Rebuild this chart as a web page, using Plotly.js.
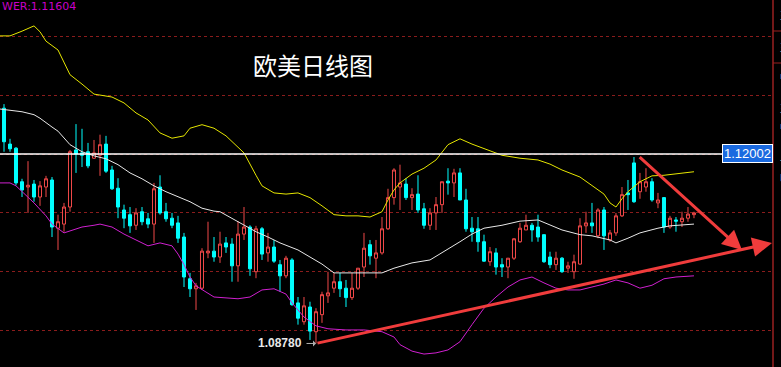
<!DOCTYPE html>
<html><head><meta charset="utf-8">
<script src="https://cdn.plot.ly/plotly-3.0.1.min.js"></script>
<style>html,body{margin:0;padding:0;background:#000;}#chart{width:781px;height:367px;}</style>
</head><body><div id="chart"></div>
<script>
// ---- candle data (EUR/USD daily) ----
const open  = [1.1278,1.1217,1.1210,1.1153,1.1144,1.1149,1.1127,1.1144,1.1156,1.1074,1.1081,1.1110,1.1207,1.1202,1.1204,1.1193,1.1198,1.1217,1.1173,1.1142,1.1105,1.1097,1.1079,1.1102,1.1090,1.1081,1.1144,1.1102,1.1091,1.1083,1.1059,1.0988,1.0971,1.0972,1.1032,1.1035,1.1025,1.1049,1.1047,1.1010,1.1064,1.1076,1.1000,1.1073,1.1032,1.1042,1.1012,1.0993,1.1020,1.0947,1.0915,1.0940,1.0898,1.0927,1.0959,1.0972,1.0983,1.0972,1.0956,1.0972,1.1008,1.1046,1.1023,1.1032,1.1073,1.1126,1.1144,1.1149,1.1126,1.1132,1.1107,1.1079,1.1100,1.1114,1.1154,1.1151,1.1168,1.1122,1.1074,1.1073,1.1051,1.1017,1.1032,1.1012,1.1008,1.1023,1.1051,1.1071,1.1079,1.1076,1.1063,1.1025,1.1012,1.1023,1.1006,1.1000,1.1013,1.1078,1.1083,1.1061,1.1105,1.1054,1.1066,1.1095,1.1134,1.1185,1.1136,1.1144,1.1153,1.1117,1.1126,1.1076,1.1088,1.1085,1.1091,1.1097];
const high  = [1.1285,1.1226,1.1212,1.1158,1.1188,1.1156,1.1154,1.1163,1.1161,1.1097,1.1117,1.1207,1.1251,1.1243,1.1219,1.1224,1.1233,1.1231,1.1180,1.1159,1.1114,1.1110,1.1108,1.1110,1.1100,1.1151,1.1164,1.1117,1.1100,1.1095,1.1066,1.0998,1.0981,1.1040,1.1085,1.1059,1.1068,1.1059,1.1057,1.1086,1.1110,1.1079,1.1078,1.1076,1.1066,1.1054,1.1020,1.1027,1.1023,1.0957,1.0957,1.0949,1.0938,1.0966,1.1000,1.0998,1.0998,1.0986,1.0998,1.1006,1.1066,1.1054,1.1054,1.1093,1.1141,1.1176,1.1182,1.1159,1.1142,1.1164,1.1117,1.1108,1.1127,1.1153,1.1176,1.1175,1.1176,1.1141,1.1093,1.1093,1.1063,1.1042,1.1040,1.1023,1.1023,1.1057,1.1083,1.1097,1.1083,1.1097,1.1063,1.1034,1.1034,1.1025,1.1017,1.1029,1.1091,1.1102,1.1117,1.1108,1.1110,1.1071,1.1100,1.1144,1.1156,1.1195,1.1168,1.1176,1.1159,1.1134,1.1127,1.1095,1.1093,1.1102,1.1110,1.1102];
const low   = [1.1204,1.1204,1.1147,1.1127,1.1100,1.1119,1.1112,1.1127,1.1059,1.1037,1.1068,1.1102,1.1168,1.1178,1.1176,1.1192,1.1163,1.1168,1.1139,1.1091,1.1074,1.1066,1.1071,1.1079,1.1074,1.1049,1.1097,1.1085,1.1074,1.1049,1.0974,1.0957,1.0935,1.0969,1.1023,1.1017,1.1015,1.1032,1.0983,1.0983,1.1054,1.0993,1.0989,1.1020,1.1017,1.1015,1.0966,1.0989,1.0942,1.0910,1.0910,1.0884,1.0878,1.0913,1.0947,1.0964,1.0957,1.0940,1.0952,1.0969,1.0991,1.1012,1.0989,1.1029,1.1071,1.1114,1.1105,1.1122,1.1105,1.1100,1.1073,1.1071,1.1071,1.1100,1.1131,1.1127,1.1122,1.1068,1.1051,1.1034,1.1017,1.1010,1.0995,1.0991,1.0989,1.1020,1.1049,1.1071,1.1051,1.1051,1.1015,1.1006,1.1003,1.0998,1.0998,1.0988,1.1012,1.1066,1.1066,1.1057,1.1037,1.1051,1.1061,1.1093,1.1105,1.1117,1.1124,1.1136,1.1119,1.1108,1.1066,1.1073,1.1068,1.1076,1.1085,1.1091];
const close = [1.1221,1.1209,1.1151,1.1139,1.1147,1.1127,1.1146,1.1158,1.1076,1.1085,1.1110,1.1204,1.1200,1.1198,1.1180,1.1202,1.1216,1.1171,1.1141,1.1110,1.1091,1.1078,1.1100,1.1085,1.1081,1.1141,1.1100,1.1090,1.1079,1.1057,1.0991,1.0971,1.0976,1.1035,1.1035,1.1025,1.1047,1.1042,1.1010,1.1064,1.1076,1.1005,1.1073,1.1030,1.1042,1.1018,1.0993,1.1023,1.0944,1.0921,1.0942,1.0899,1.0932,1.0961,1.0964,1.0983,1.0971,1.0956,1.0972,1.1006,1.1040,1.1027,1.1032,1.1073,1.1126,1.1173,1.1151,1.1126,1.1131,1.1105,1.1079,1.1100,1.1114,1.1153,1.1151,1.1168,1.1122,1.1073,1.1068,1.1051,1.1018,1.1034,1.1008,1.1008,1.1023,1.1056,1.1074,1.1079,1.1071,1.1059,1.1017,1.1012,1.1023,1.1000,1.1010,1.1017,1.1078,1.1083,1.1078,1.1105,1.1061,1.1066,1.1095,1.1131,1.1131,1.1119,1.1153,1.1153,1.1122,1.1122,1.1076,1.1091,1.1086,1.1091,1.1098,1.1100];

// ---- Bollinger bands (read at sampled candles) ----
const upperIdx = [-1,1,3,5,6,7,9,10,11,13,15,18,20,22,24,26,28,30,31,33,35,37,39,40,42,43,45,47,49,51,53,55,57,59,61,63,64,65,66,68,70,72,74,76,78,81,83,86,89,91,93,96,98,100,101,102,103,104,106,108,110,112,115];
const upper = [1.1401,1.1401,1.1409,1.1418,1.1408,1.1392,1.1377,1.1357,1.1335,1.1319,1.1302,1.1297,1.1287,1.1270,1.1258,1.1236,1.1227,1.1231,1.1244,1.1250,1.1244,1.1231,1.1212,1.1202,1.1164,1.1146,1.1134,1.1132,1.1134,1.1126,1.1112,1.1097,1.1095,1.1095,1.1093,1.1102,1.1122,1.1139,1.1151,1.1166,1.1176,1.1190,1.1216,1.1226,1.1217,1.1205,1.1198,1.1193,1.1190,1.1183,1.1173,1.1161,1.1147,1.1132,1.1117,1.1110,1.1124,1.1136,1.1153,1.1163,1.1164,1.1166,1.1170];
const midIdx = [-1,3,5,6,8,9,11,13,15,17,19,21,23,25,27,29,31,33,35,36,38,40,42,44,46,49,53,55,63,65,68,71,73,76,78,80,83,86,89,91,93,96,98,101,102,104,106,109,111,115];
const mid = [1.1277,1.1272,1.1267,1.1261,1.1246,1.1239,1.1216,1.1204,1.1197,1.1192,1.1182,1.1168,1.1158,1.1146,1.1136,1.1127,1.1119,1.1108,1.1103,1.1102,1.1091,1.1079,1.1068,1.1059,1.1049,1.1037,1.1013,1.0998,1.0998,1.1006,1.1015,1.1020,1.1032,1.1051,1.1064,1.1074,1.1079,1.1086,1.1088,1.1079,1.1071,1.1063,1.1061,1.1054,1.1049,1.1057,1.1066,1.1074,1.1078,1.1081];
const lowerIdx = [-1,1,2,5,7,8,10,13,15,16,18,20,22,24,26,28,29,30,31,32,35,39,41,43,45,47,48,50,52,54,57,60,63,65,66,68,70,72,74,76,78,80,82,84,86,88,90,92,94,96,98,100,102,104,106,108,110,112,115];
const lower = [1.1151,1.1151,1.1146,1.1117,1.1095,1.1081,1.1066,1.1076,1.1079,1.1081,1.1076,1.1064,1.1054,1.1044,1.1049,1.1044,1.1030,1.1012,1.0991,1.0976,1.0957,1.0954,1.0957,1.0969,1.0971,1.0962,1.0947,1.0923,1.0908,1.0903,1.0901,1.0901,1.0898,1.0889,1.0876,1.0865,1.0860,1.0862,1.0867,1.0881,1.0910,1.0938,1.0957,1.0974,1.0986,1.0991,1.0981,1.0972,1.0969,1.0969,1.0974,1.0979,1.0986,1.0981,1.0972,1.0977,1.0988,1.0991,1.0993];

// ---- reference levels / labels ----
const lastPrice = 1.12002;
const lowPrice = 1.08780;
const lowIdx = 52;
const lowerLabel = 'WER:1.11604';
const titleText = '欧美日线图';
const sidePanelGlyphs = ['王','王','r','卩','王','r','一','■'];
// trend arrows: [fromIdx, fromPrice, toIdx, toPrice]
const supportLine = [52, 1.0878, 128, 1.1049];
const resistLine = [105.7, 1.1197, 123, 1.1037];

const idx = open.map((_, i) => i);
const RED = '#f04848';

const traces = [
  {type:'scatter', mode:'lines', x:upperIdx, y:upper, line:{color:'#e6e600', width:1}, hoverinfo:'skip'},
  {type:'scatter', mode:'lines', x:midIdx, y:mid, line:{color:'#e8e8e8', width:1}, hoverinfo:'skip'},
  {type:'scatter', mode:'lines', x:lowerIdx, y:lower, line:{color:'#d020d0', width:1}, hoverinfo:'skip'},
  {type:'candlestick', x:idx, open:open, high:high, low:low, close:close,
   increasing:{line:{color:RED, width:1}, fillcolor:'#000000'},
   decreasing:{line:{color:'#00ffff', width:1}, fillcolor:'#00ffff'},
   whiskerwidth:0, hoverinfo:'skip'}
];

const glyphY = [15, 47, 75, 92, 108, 125, 160, 177];
const glyphAnn = sidePanelGlyphs.map((g, k) => ({
  xref:'paper', yref:'paper', x:778/773, y:1-glyphY[k]/367, xanchor:'left', yanchor:'middle',
  text:g, showarrow:false, font:{family:'Noto Sans CJK SC', size:9, color:'#c8c8c8'}
}));

const layout = {
  width:781, height:367,
  paper_bgcolor:'#000', plot_bgcolor:'#000',
  margin:{l:0, r:8, t:0, b:0},
  showlegend:false, hovermode:false,
  boxgap:0.28,
  xaxis:{type:'linear', range:[-0.667, 128.17], visible:false, rangeslider:{visible:false}, fixedrange:true},
  yaxis:{range:[1.0838, 1.1462], showticklabels:false, zeroline:false,
         showgrid:true, gridcolor:'#8a1c1c', griddash:'dot', gridwidth:1, tick0:1.09, dtick:0.01, fixedrange:true},
  shapes:[
    {type:'line', xref:'paper', x0:0, x1:1, yref:'y', y0:lastPrice, y1:lastPrice, line:{color:'#ffffff', width:1.5}},
    {type:'line', xref:'paper', x0:1, x1:1, yref:'paper', y0:0, y1:1, line:{color:'#9a2020', width:1.5}},
    {type:'line', xref:'paper', x0:1, x1:1.02, yref:'paper', y0:1-31/367, y1:1-31/367, line:{color:'#9a2020', width:1}},
    {type:'line', xref:'paper', x0:1, x1:1.02, yref:'paper', y0:1-63/367, y1:1-63/367, line:{color:'#9a2020', width:1}}
  ],
  annotations:[
    {xref:'paper', yref:'paper', x:312.5/773, y:1-66/367, yanchor:'middle', yshift:2, text:titleText, showarrow:false,
     font:{family:'Noto Sans CJK SC', size:24, color:'#ffffff'}},
    {xref:'paper', yref:'paper', x:0, y:1, xanchor:'left', yanchor:'top', yshift:2, text:lowerLabel, showarrow:false,
     font:{family:'DejaVu Sans', size:11, color:'#c800c8'}},
    {xref:'paper', yref:'y', x:1, y:lastPrice, xanchor:'right', yanchor:'middle', text:lastPrice.toFixed(5), showarrow:false,
     bgcolor:'#1a6ae0', bordercolor:'#ffffff', borderwidth:1, borderpad:1,
     font:{family:'Liberation Sans', size:13, color:'#ffffff'}},
    {x:lowIdx, y:lowPrice, xref:'x', yref:'y', text:'<b>'+lowPrice.toFixed(5)+'</b>', showarrow:true,
     ax:-36, ay:0, arrowhead:1, arrowsize:1, arrowwidth:1, arrowcolor:'#b0b0b0', standoff:0, startstandoff:3,
     font:{family:'Liberation Sans', size:12, color:'#e8e8e8'}},
    {x:supportLine[2], y:supportLine[3], ax:supportLine[0], ay:supportLine[1], xref:'x', yref:'y', axref:'x', ayref:'y',
     text:'', showarrow:true, arrowhead:2, arrowsize:1.3, arrowwidth:3, arrowcolor:'#f03c3c'},
    {x:resistLine[2], y:resistLine[3], ax:resistLine[0], ay:resistLine[1], xref:'x', yref:'y', axref:'x', ayref:'y',
     text:'', showarrow:true, arrowhead:2, arrowsize:1.3, arrowwidth:3, arrowcolor:'#f03c3c'}
  ].concat(glyphAnn)
};

Plotly.newPlot('chart', traces, layout, {displayModeBar:false, staticPlot:true});
</script>
</body></html>
